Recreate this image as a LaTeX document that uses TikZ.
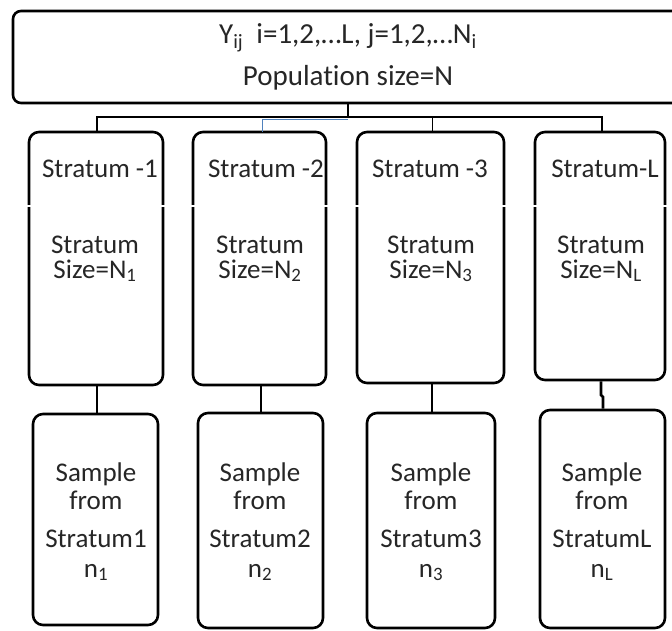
\documentclass[tikz,border=0pt]{standalone}
\usepackage{fontspec}
\setmainfont{Carlito}[Ligatures=NoCommon]
\definecolor{txt}{HTML}{262626}
\definecolor{bluel}{HTML}{4F81BD}
\tikzset{
  box/.style={draw=black, line width=2.6pt, rounded corners=10pt, inner sep=0pt},
  lbl/.style={anchor=base, inner sep=0pt, text=txt, font=\fontsize{27}{32}\selectfont},
  toplbl/.style={anchor=base, inner sep=0pt, text=txt, font=\fontsize{29}{34}\selectfont},
  thick line/.style={line width=2.6pt, draw=black},
  thin line/.style={line width=1pt, draw=black},
  blue line/.style={line width=1pt, draw=bluel},
}
\begin{document}
\begin{tikzpicture}[x=1pt,y=-1pt]
\clip (0,0) rectangle (672,630);
\fill[white] (0,0) rectangle (672,630);
% top box
\node[box, rounded corners=8pt, minimum width=680pt, minimum height=92pt] (top) at (353,57) {};
\node[toplbl] (t1) at (348,43) {Y\textsubscript{ij}\ \ i=1,2,…L, j=1,2,…N\textsubscript{i}};
\node[toplbl] (t2) at (348,85) {Population size=N};
% stratum boxes
\node[box, minimum width=134pt, minimum height=253pt] (s1) at (96,258.5) {};
\node[box, minimum width=133pt, minimum height=253pt] (s2) at (259.5,258.5) {};
\node[box, minimum width=147pt, minimum height=251pt] (s3) at (430.5,257.5) {};
\node[box, minimum width=130pt, minimum height=248pt] (sL) at (600,256) {};
% white gaps in borders
\foreach \a/\b in {25/167,189/330,353/508,531/669}
  \draw[white, line width=1.2pt] (\a,206) -- (\b,206);
% sample boxes
\node[box, minimum width=125pt, minimum height=211pt] (p1) at (95.5,519.5) {};
\node[box, minimum width=125pt, minimum height=215pt] (p2) at (260.5,520.5) {};
\node[box, minimum width=128pt, minimum height=215pt] (p3) at (431,520.5) {};
\node[box, minimum width=125pt, minimum height=218pt] (pL) at (602.5,519) {};
% connectors top
\coordinate (bl) at (97,117);
\coordinate (br) at (602,117);
\coordinate (bc) at (348,117);
\draw[thick line] (top.south -| bc) -- (bc);
\draw[thick line, line cap=rect] (bl) -- (br);
\draw[thick line] (bl) -- (s1.north -| bl);
\draw[thick line] (br) -- (sL.north -| br);
\draw[blue line] (348,119) -- (262,119) -- (262,132);
\draw[thin line] (432,117) -- (432,132);
% connectors bottom
\draw[thick line] (s1.south -| 97,0) -- (p1.north -| 97,0);
\draw[thick line] (s2.south -| 261,0) -- (p2.north -| 261,0);
\draw[thick line] (s3.south -| 432,0) -- (p3.north -| 432,0);
\draw[thick line] (sL.south -| 601,0) -- (601,395) -- (603,397) -- (pL.north -| 603,0);
% stratum texts
\node[lbl] (a1) at (100,177) {Stratum -1};
\node[lbl] (a2) at (266,177) {Stratum -2};
\node[lbl] (a3) at (430,177) {Stratum -3};
\node[lbl] (a4) at (605,177) {Stratum-L};
\node[lbl] (b1) at (95,253) {Stratum};
\node[lbl] (b2) at (260,253) {Stratum};
\node[lbl] (b3) at (431,253) {Stratum};
\node[lbl] (b4) at (601,253) {Stratum};
\node[lbl] (c1) at (95,278) {Size=N\textsubscript{1}};
\node[lbl] (c2) at (260,278) {Size=N\textsubscript{2}};
\node[lbl] (c3) at (431,278) {Size=N\textsubscript{3}};
\node[lbl] (c4) at (601,278) {Size=N\textsubscript{L}};
% sample texts
\foreach \n/\x/\s/\k in {1/96/1/1, 2/260/2/2, 3/431/3/3, 4/602/L/L}{
  \node[lbl] (d\n) at (\x,481) {Sample};
  \node[lbl] (e\n) at (\x,509) {from};
  \node[lbl] (f\n) at (\x,547) {Stratum\s};
  \node[lbl] (g\n) at (\x,577) {n\textsubscript{\k}};
}
\end{tikzpicture}
\end{document}
